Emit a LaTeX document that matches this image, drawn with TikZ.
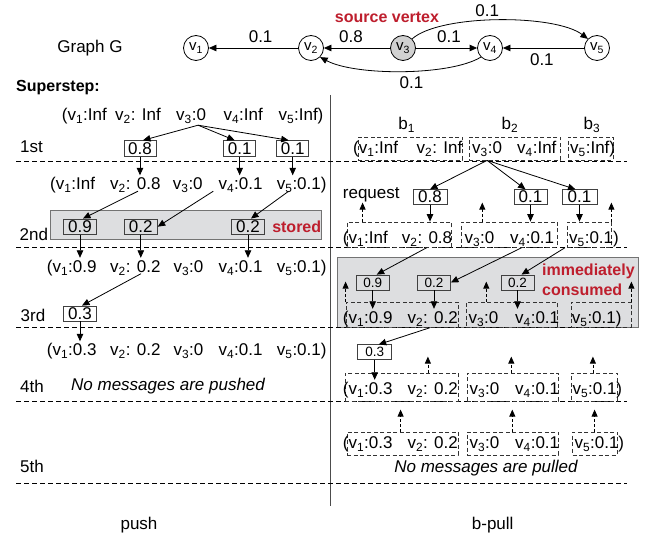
\documentclass[tikz,border=0pt]{standalone}
\usepackage{fontspec}
\setmainfont{Liberation Sans}
\usetikzlibrary{arrows.meta}
\definecolor{alert}{RGB}{190,30,45}
\definecolor{panel}{RGB}{221,222,224}
\newcommand\vsub[1]{v\textsubscript{#1}}
\newcommand\bsub[1]{b\textsubscript{#1}}

\begin{document}
\begin{tikzpicture}[x=1pt,y=-1pt,
  font=\fontsize{17}{20}\selectfont,
  every node/.style={inner sep=0pt},
  entry/.style={anchor=base west, text height=14.5pt, text depth=4pt},
  msg/.style={draw=black!75, line width=0.8pt, minimum width=32pt, minimum height=16pt},
  smallmsg/.style={msg, font=\fontsize{13.5}{16}\selectfont, minimum width=33pt, minimum height=15pt},
  blockbox/.style={draw=black!80, dash pattern=on 4pt off 2.5pt, line width=0.8pt},
  vertex/.style={circle, draw, line width=0.8pt, minimum size=25pt, font=\fontsize{15}{18}\selectfont},
  sep/.style={dash pattern=on 5pt off 3pt, line width=0.9pt},
  flow/.style={-{Triangle[length=7.5pt,width=6.5pt]}, line width=0.8pt},
  req/.style={-{Triangle[length=7pt,width=6pt]}, dash pattern=on 3pt off 2pt, line width=0.8pt},
  alertlbl/.style={text=alert, font=\fontsize{16}{20}\selectfont\bfseries},
]
\fill[white] (0,0) rectangle (649,537);
\useasboundingbox (0,0) rectangle (649,537);

% ---------- the graph ----------
\node[alertlbl] (srclbl) at (387,17) {source vertex};
\node (graphlbl) at (90,48) {Graph G};
\node[vertex] (v1) at (196,48) {\vsub1};
\node[vertex] (v2) at (311,48) {\vsub2};
\node[vertex, fill=black!18] (v3) at (403,48) {\vsub3};
\node[vertex] (v4) at (490,48) {\vsub4};
\node[vertex] (v5) at (597,48) {\vsub5};
\draw[flow] (v2) -- node[pos=0.42, above=5pt] {0.1} (v1);
\draw[flow] (v3) -- node[pos=0.59, above=5pt] {0.8} (v2);
\draw[flow] (v3) -- node[pos=0.54, above=5pt] {0.1} (v4);
\draw[flow] (v5) -- node[pos=0.52, below=5pt] {0.1} (v4);
\draw[flow] (v3.north east) .. controls (440,14) and (555,14) .. node[pos=0.45, above=3pt] {0.1} (v5.north west);
\draw[flow] (v4.south west) .. controls (450,76) and (355,76) .. node[pos=0.45, below=5pt] {0.1} (v2.south east);

\node[anchor=west, font=\fontsize{16}{19}\selectfont\bfseries] (sslbl) at (16,88) {Superstep:};

% ---------- frame ----------
\fill[panel, draw=black!55, line width=0.9pt] (50.7,210.7) rectangle (321.7,239.3);
\fill[panel, draw=black!55, line width=0.9pt] (337.5,257.3) rectangle (638.5,327.3);
\draw[line width=1pt, black!70] (330,95) -- (330,506);
\foreach \yy in {161,247.5,327.5,401,483}
  \draw[sep] (16,\yy) -- (627,\yy);

% ---------- step labels ----------
\node[anchor=west] (s1) at (20,146.7) {1st};
\node[anchor=west] (s2) at (19.5,234.3) {2nd};
\node[anchor=west] (s3) at (20.5,315) {3rd};
\node[anchor=west] (s4) at (20,386) {4th};
\node[anchor=west] (s5) at (20,466) {5th};

% ---------- push ----------
\node[entry] (L1a) at (61.7,121) {(\vsub1:Inf};
\node[entry] (L1b) at (115,121) {\vsub2: Inf};
\node[entry] (L1c) at (176,121) {\vsub3:0};
\node[entry] (L1d) at (223.3,121) {\vsub4:Inf};
\node[entry] (L1e) at (278.3,121) {\vsub5:Inf)};

\node[entry] (L2a) at (50,190) {(\vsub1:Inf};
\node[entry] (L2b) at (110,190) {\vsub2: 0.8};
\node[entry] (L2c) at (172.7,190) {\vsub3:0};
\node[entry] (L2d) at (218.3,190) {\vsub4:0.1};
\node[entry] (L2e) at (276.7,190) {\vsub5:0.1)};

\node[entry] (L3a) at (46.7,272.5) {(\vsub1:0.9};
\node[entry] (L3b) at (110,272.5) {\vsub2: 0.2};
\node[entry] (L3c) at (173.3,272.5) {\vsub3:0};
\node[entry] (L3d) at (218.3,272.5) {\vsub4:0.1};
\node[entry] (L3e) at (276.7,272.5) {\vsub5:0.1)};

\node[entry] (L4a) at (46.7,356) {(\vsub1:0.3};
\node[entry] (L4b) at (110,356) {\vsub2: 0.2};
\node[entry] (L4c) at (173.3,356) {\vsub3:0};
\node[entry] (L4d) at (218.3,356) {\vsub4:0.1};
\node[entry] (L4e) at (276.7,356) {\vsub5:0.1)};

\node[msg] (L1m1) at (140,148.7) {0.8};
\node[msg] (L1m2) at (239.7,148.7) {0.1};
\node[msg] (L1m3) at (292.7,148.7) {0.1};
\node[msg, minimum width=33pt, minimum height=15.5pt] (L2m1) at (80,226.7) {0.9};
\node[msg, minimum width=33pt, minimum height=15.5pt] (L2m2) at (140.8,226.7) {0.2};
\node[msg, minimum width=33pt, minimum height=15.5pt] (L2m3) at (248,226.7) {0.2};
\node[msg, minimum width=33pt, minimum height=15pt] (L3m1) at (80,313.5) {0.3};
\node[alertlbl] (storedlbl) at (296.7,226.7) {stored};

\draw[flow] ([xshift=7pt]L1c.south) -- ([xshift=3pt]L1m1.north);
\draw[flow] ([xshift=7pt]L1c.south) -- ([xshift=-5pt]L1m2.north);
\draw[flow] ([xshift=7pt]L1c.south) -- ([xshift=-4pt]L1m3.north);
\draw[flow] (L1m1) -- (L1m1 |- L2b.north);
\draw[flow] (L1m2) -- (L1m2 |- L2d.north);
\draw[flow] (L1m3) -- (L1m3 |- L2e.north);

\draw[flow] ([xshift=28pt,yshift=3pt]L2b.south west) -- ([xshift=3pt]L2m1.north);
\draw[flow] ([xshift=-5pt,yshift=3pt]L2d.south west) -- (L2m2.east);
\draw[flow] ([xshift=12pt,yshift=3pt]L2e.south west) -- ([xshift=3pt]L2m3.north);
\draw[flow] (L2m1) -- (L2m1 |- L3a.north);
\draw[flow] (L2m2) -- (L2m2 |- L3b.north);
\draw[flow] (L2m3) -- (L2m3 |- L3d.north);

\draw[flow] ([xshift=31pt,yshift=3pt]L3b.south west) -- ([xshift=2pt]L3m1.north);
\draw[flow] (L3m1) -- (L3m1 |- L4a.north);

\node[anchor=west, font=\fontsize{17}{20}\selectfont\itshape] (nopush) at (71,386) {No messages are pushed};

% ---------- b-pull ----------
\node (b1) at (406.7,125) {\bsub1};
\node (b2) at (510,125) {\bsub2};
\node (b3) at (592,125) {\bsub3};

\node[blockbox, minimum width=104pt, minimum height=23pt] (R1k1) at (410,148.5) {};
\node[blockbox, minimum width=91pt, minimum height=23pt] (R1k2) at (514.5,148.5) {};
\node[blockbox, minimum width=45pt, minimum height=23pt] (R1k3) at (590.5,148.5) {};
\node[blockbox, minimum width=104pt, minimum height=25pt] (R2k1) at (399,234.5) {};
\node[blockbox, minimum width=96pt, minimum height=25pt] (R2k2) at (509,234.5) {};
\node[blockbox, minimum width=44pt, minimum height=25pt] (R2k3) at (589,234.5) {};
\node[blockbox, minimum width=112pt, minimum height=25pt] (R3k1) at (402,314.5) {};
\node[blockbox, minimum width=91pt, minimum height=25pt] (R3k2) at (511.5,314.5) {};
\node[blockbox, minimum width=60pt, minimum height=25pt] (R3k3) at (601,314.5) {};
\node[blockbox, minimum width=113pt, minimum height=28pt] (R4k1) at (401.5,387) {};
\node[blockbox, minimum width=91pt, minimum height=28pt] (R4k2) at (512.5,387) {};
\node[blockbox, minimum width=46pt, minimum height=28pt] (R4k3) at (594,387) {};
\node[blockbox, minimum width=111pt, minimum height=23pt] (R5k1) at (402.5,443.5) {};
\node[blockbox, minimum width=91pt, minimum height=23pt] (R5k2) at (512.5,443.5) {};
\node[blockbox, minimum width=45pt, minimum height=23pt] (R5k3) at (595,443.5) {};

\node[entry] (R1a) at (353,153.5) {(\vsub1:Inf};
\node[entry] (R1b) at (416.5,153.5) {\vsub2: Inf};
\node[entry] (R1c) at (472,153.5) {\vsub3:0};
\node[entry] (R1d) at (517,153.5) {\vsub4:Inf};
\node[entry] (R1e) at (570,153.5) {\vsub5:Inf)};

\node[entry] (R2a) at (342.7,243.5) {(\vsub1:Inf};
\node[entry] (R2b) at (401.7,243.5) {\vsub2: 0.8};
\node[entry] (R2c) at (464.3,243.5) {\vsub3:0};
\node[entry] (R2d) at (510,243.5) {\vsub4:0.1};
\node[entry] (R2e) at (569,243.5) {\vsub5:0.1)};

\node[entry] (R3a) at (342.7,323.5) {(\vsub1:0.9};
\node[entry] (R3b) at (407.3,323.5) {\vsub2: 0.2};
\node[entry] (R3c) at (468.3,323.5) {\vsub3:0};
\node[entry] (R3d) at (515,323.5) {\vsub4:0.1};
\node[entry] (R3e) at (571.7,323.5) {\vsub5:0.1)};

\node[entry] (R4a) at (342.7,394.5) {(\vsub1:0.3};
\node[entry] (R4b) at (407.3,394.5) {\vsub2: 0.2};
\node[entry] (R4c) at (469.3,394.5) {\vsub3:0};
\node[entry] (R4d) at (515,394.5) {\vsub4:0.1};
\node[entry] (R4e) at (572.3,394.5) {\vsub5:0.1)};

\node[entry] (R5a) at (342.7,448.5) {(\vsub1:0.3};
\node[entry] (R5b) at (407.3,448.5) {\vsub2: 0.2};
\node[entry] (R5c) at (469.3,448.5) {\vsub3:0};
\node[entry] (R5d) at (515,448.5) {\vsub4:0.1};
\node[entry] (R5e) at (574.3,448.5) {\vsub5:0.1)};

\node[msg, minimum width=34pt, minimum height=14.5pt] (R1m1) at (430,197) {0.8};
\node[msg, minimum width=33pt, minimum height=14.5pt] (R1m2) at (530.5,197) {0.1};
\node[msg, minimum width=35pt, minimum height=14.5pt] (R1m3) at (579.5,197) {0.1};
\node[anchor=base west] (reqlbl) at (342.7,198.3) {request};

\draw[flow] (R1c.south |- R1k2.south) -- (R1m1.north);
\draw[flow] (R1c.south |- R1k2.south) -- ([xshift=-5pt]R1m2.north);
\draw[flow] (R1c.south |- R1k2.south) -- ([xshift=-4pt]R1m3.north);
\draw[flow] (R1m1) -- (R1m1 |- R2k1.north);
\draw[flow] (R1m2) -- (R1m2 |- R2k2.north);
\draw[flow] (R1m3) -- (R1m3 |- R2k3.north);

\draw[req] ([xshift=16pt]R2k1.north west) -- ++(0,-19);
\draw[req] ([xshift=21.7pt]R2k2.north west) -- ++(0,-19);
\draw[req] (R2k3.north east) -- ++(0,-19);

\node[smallmsg] (RmA) at (372.7,282.5) {0.9};
\node[smallmsg] (RmB) at (434,282.5) {0.2};
\node[smallmsg] (RmC) at (517.5,282.5) {0.2};
\node[alertlbl, align=left, anchor=west] (conslbl) at (542,280) {immediately\\consumed};

\draw[flow] ([xshift=25pt]R2b.south west) -- ([xshift=4pt]RmA.north);
\draw[flow] ([xshift=11.7pt]R2d.south west) -- (RmB.east);
\draw[flow] ([xshift=-4pt]R2e.south west) -- ([xshift=4pt]RmC.north);
\draw[flow] (RmA) -- (RmA |- R3a.north);
\draw[flow] (RmB) -- (RmB |- R3b.north);
\draw[flow] (RmC) -- (RmC |- R3d.north);

\draw[req] (R3k1.north west) -- ++(0,-20);
\draw[req] ([xshift=20.7pt]R3k2.north west) -- ++(0,-20);
\draw[req] (R3k3.north east) -- ++(0,-20);

\node[smallmsg, minimum width=34pt, minimum height=14.3pt] (R03) at (374.7,352) {0.3};
\draw[flow] ([xshift=22.7pt]R3b.south west) -- ([xshift=4pt]R03.north);
\draw[flow] (R03) -- (R03 |- R4a.north);

\draw[req] ([xshift=83.3pt]R4k1.north west) -- ++(0,-16);
\draw[req] ([xshift=44.7pt]R4k2.north west) -- ++(0,-16);
\draw[req] ([xshift=22.3pt]R4k3.north west) -- ++(0,-16);

\draw[req] ([xshift=54pt]R5k1.north west) -- ++(0,-22);
\draw[req] ([xshift=45.7pt]R5k2.north west) -- ++(0,-22);
\draw[req] ([xshift=22.5pt]R5k3.north west) -- ++(0,-22);

\node[font=\fontsize{17}{20}\selectfont\itshape] (nopull) at (486,468.3) {No messages are pulled};

\node (pushlbl) at (139,525) {push};
\node (pulllbl) at (492.7,525) {b-pull};
\end{tikzpicture}
\end{document}
